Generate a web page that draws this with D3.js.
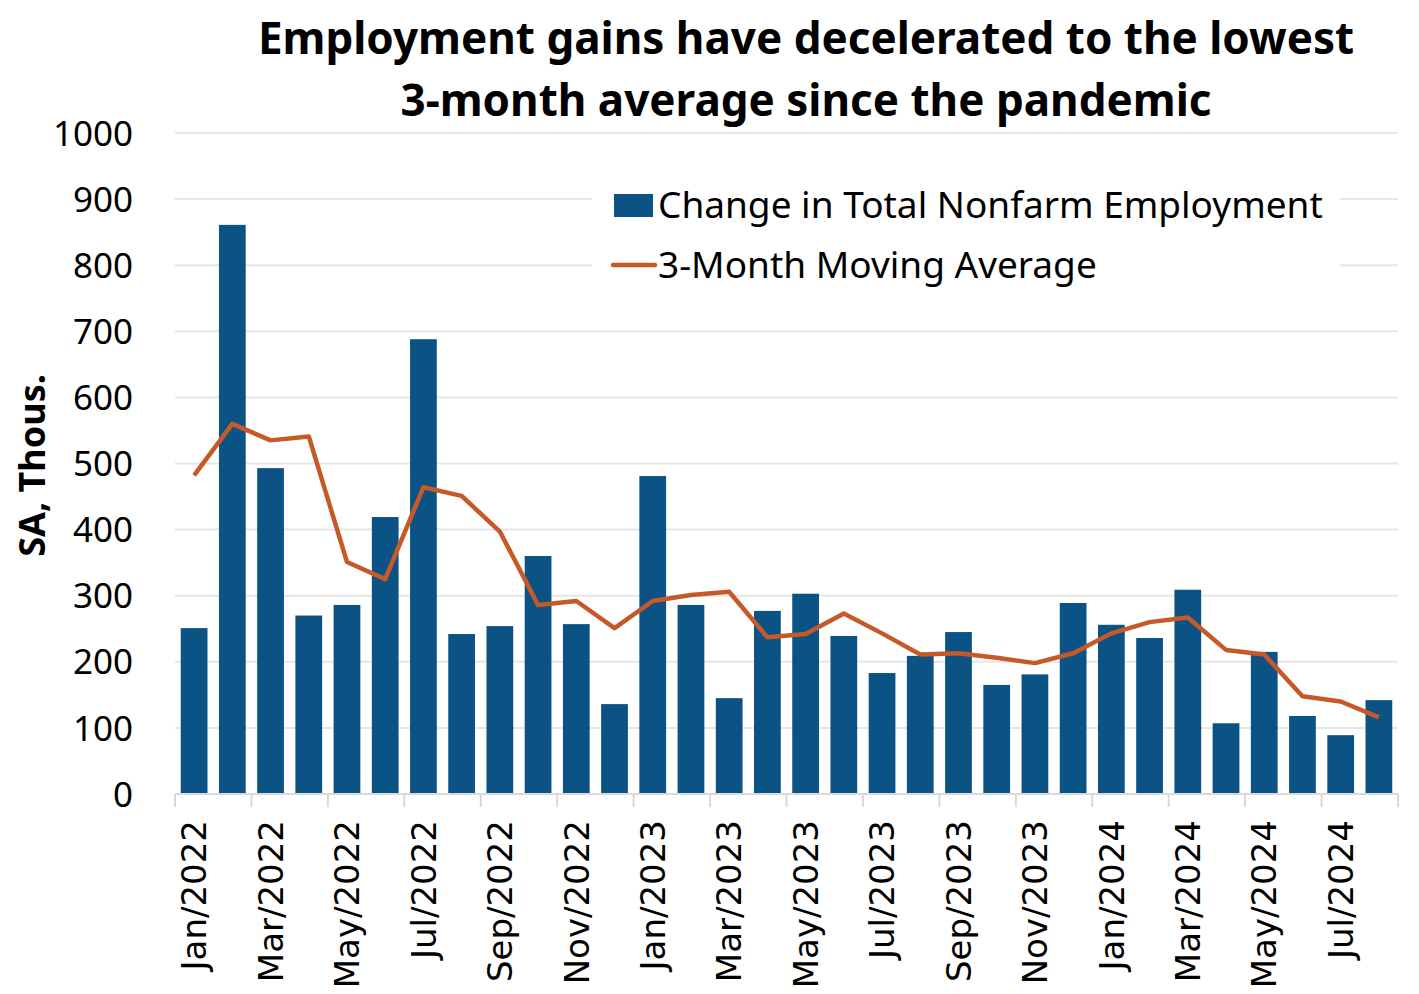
<!DOCTYPE html>
<html>
<head>
<meta charset="utf-8">
<script src="https://cdn.jsdelivr.net/npm/d3@7"></script>
<style>
  html, body { margin: 0; padding: 0; background: #fff; }
  svg { display: block; }
</style>
</head>
<body>
<div id="chart"></div>
<script>
// Employment change bars + 3-month moving average line

const months = [
  "Jan/2022", "Feb/2022", "Mar/2022", "Apr/2022", "May/2022", "Jun/2022",
  "Jul/2022", "Aug/2022", "Sep/2022", "Oct/2022", "Nov/2022", "Dec/2022",
  "Jan/2023", "Feb/2023", "Mar/2023", "Apr/2023", "May/2023", "Jun/2023",
  "Jul/2023", "Aug/2023", "Sep/2023", "Oct/2023", "Nov/2023", "Dec/2023",
  "Jan/2024", "Feb/2024", "Mar/2024", "Apr/2024", "May/2024", "Jun/2024",
  "Jul/2024", "Aug/2024"
];

// change in total nonfarm employment, thousands
const payrollChange = [
  251, 861, 493, 270, 286, 419, 688, 242, 254, 360, 257, 136,
  481, 286, 145, 277, 303, 239, 183, 209, 245, 165, 181, 289,
  256, 236, 309, 107, 215, 118, 89, 142
];

// 3-month moving average
const movingAvg = [
  482, 560, 535, 541, 351, 325, 464, 451, 397, 286, 292, 251,
  292, 301, 306, 237, 242, 273, 243, 211, 213, 206, 198, 213,
  243, 260, 267, 218, 211, 148, 140, 116
];

const yTicks = [0, 100, 200, 300, 400, 500, 600, 700, 800, 900, 1000];

const titleLines = [
  "Employment gains have decelerated to the lowest",
  "3-month average since the pandemic"
];
const seriesNames = ["Change in Total Nonfarm Employment", "3-Month Moving Average"];

const BAR_COLOR = "#0B5384";
const LINE_COLOR = "#C55A28";
const GRID_COLOR = "#E6E6E6";

const width = 1419;
const height = 994;
const plot = { left: 175, right: 1398, top: 133, bottom: 794 };

const svg = d3.select("#chart").append("svg")
    .attr("width", width).attr("height", height);

const x = d3.scaleBand()
    .domain(months)
    .range([plot.left, plot.right])
    .paddingInner(0.3)
    .paddingOuter(0.15);

const y = d3.scaleLinear()
    .domain([0, 1000])
    .range([plot.bottom, plot.top]);

// --- GRID ---
svg.append("g").attr("class", "grid")
    .selectAll("line").data(yTicks.filter(d => d > 0)).join("line")
    .attr("x1", plot.left).attr("x2", plot.right)
    .attr("y1", d => y(d)).attr("y2", d => y(d))
    .attr("stroke", GRID_COLOR).attr("stroke-width", 2);

// --- Y AXIS LABELS ---
svg.append("g").attr("class", "y-axis")
    .selectAll("text").data(yTicks).join("text")
    .attr("x", 133).attr("y", d => y(d))
    .attr("dy", "0.36em")
    .attr("text-anchor", "end")
    .attr("font-family", "'Noto Sans', sans-serif")
    .attr("font-size", 35)
    .attr("fill", "#000")
    .text(d => d);

svg.append("text")
    .attr("transform", `translate(45, ${(plot.top + plot.bottom) / 2 + 2}) rotate(-90)`)
    .attr("text-anchor", "middle")
    .attr("font-family", "'Noto Sans', sans-serif")
    .attr("font-weight", "bold")
    .attr("font-size", 36)
    .attr("fill", "#000")
    .text("SA, Thous.");

// --- BARS ---
svg.append("g").attr("class", "bars")
    .selectAll("rect").data(payrollChange).join("rect")
    .attr("x", (d, i) => x(months[i]))
    .attr("width", x.bandwidth())
    .attr("y", d => y(d))
    .attr("height", d => y(0) - y(d))
    .attr("fill", BAR_COLOR);

// --- X AXIS ---
const step = x.step();
const boundary = i => plot.left + i * step;
const xAxis = svg.append("g").attr("class", "x-axis");

xAxis.append("line")
    .attr("x1", plot.left).attr("x2", plot.right)
    .attr("y1", plot.bottom).attr("y2", plot.bottom)
    .attr("stroke", "#D9D9D9").attr("stroke-width", 2);

xAxis.selectAll("line.tick")
    .data(d3.range(0, months.length + 1, 2)).join("line")
    .attr("class", "tick")
    .attr("x1", d => boundary(d)).attr("x2", d => boundary(d))
    .attr("y1", plot.bottom).attr("y2", plot.bottom + 13)
    .attr("stroke", "#D9D9D9").attr("stroke-width", 2);

xAxis.selectAll("text")
    .data(months.filter((d, i) => i % 2 === 0)).join("text")
    .attr("transform", d => `translate(${x(d) + x.bandwidth() / 2}, ${plot.bottom + 26}) rotate(-90)`)
    .attr("dy", "0.36em")
    .attr("text-anchor", "end")
    .attr("font-family", "'DejaVu Sans', sans-serif")
    .attr("font-size", 34)
    .attr("fill", "#000")
    .text(d => d);

// --- LINE ---
const line = d3.line()
    .x((d, i) => x(months[i]) + x.bandwidth() / 2)
    .y(d => y(d));

svg.append("path")
    .datum(movingAvg)
    .attr("d", line)
    .attr("fill", "none")
    .attr("stroke", LINE_COLOR)
    .attr("stroke-width", 4.5)
    .attr("stroke-linejoin", "round");

// --- LEGEND ---
const legend = svg.append("g").attr("class", "legend");
legend.append("rect")
    .attr("x", 592).attr("y", 168).attr("width", 748).attr("height", 128)
    .attr("fill", "#fff");

legend.append("rect")
    .attr("x", 614).attr("y", 194).attr("width", 39).attr("height", 23)
    .attr("fill", BAR_COLOR);
legend.append("line")
    .attr("x1", 613).attr("x2", 655).attr("y1", 265).attr("y2", 265)
    .attr("stroke", LINE_COLOR).attr("stroke-width", 4.5).attr("stroke-linecap", "round");

legend.selectAll("text").data(seriesNames).join("text")
    .attr("x", 658).attr("y", (d, i) => 205 + i * 60)
    .attr("dy", "0.36em")
    .attr("font-family", "'Noto Sans', sans-serif")
    .attr("font-size", 37)
    .attr("fill", "#000")
    .text(d => d);

// --- TITLE ---
svg.append("g").attr("class", "title")
    .selectAll("text").data(titleLines).join("text")
    .attr("x", 806).attr("y", (d, i) => 54 + i * 62)
    .attr("text-anchor", "middle")
    .attr("font-family", "'Noto Sans', sans-serif")
    .attr("font-weight", "bold")
    .attr("font-size", 44)
    .attr("fill", "#000")
    .text(d => d);
</script>
</body>
</html>
